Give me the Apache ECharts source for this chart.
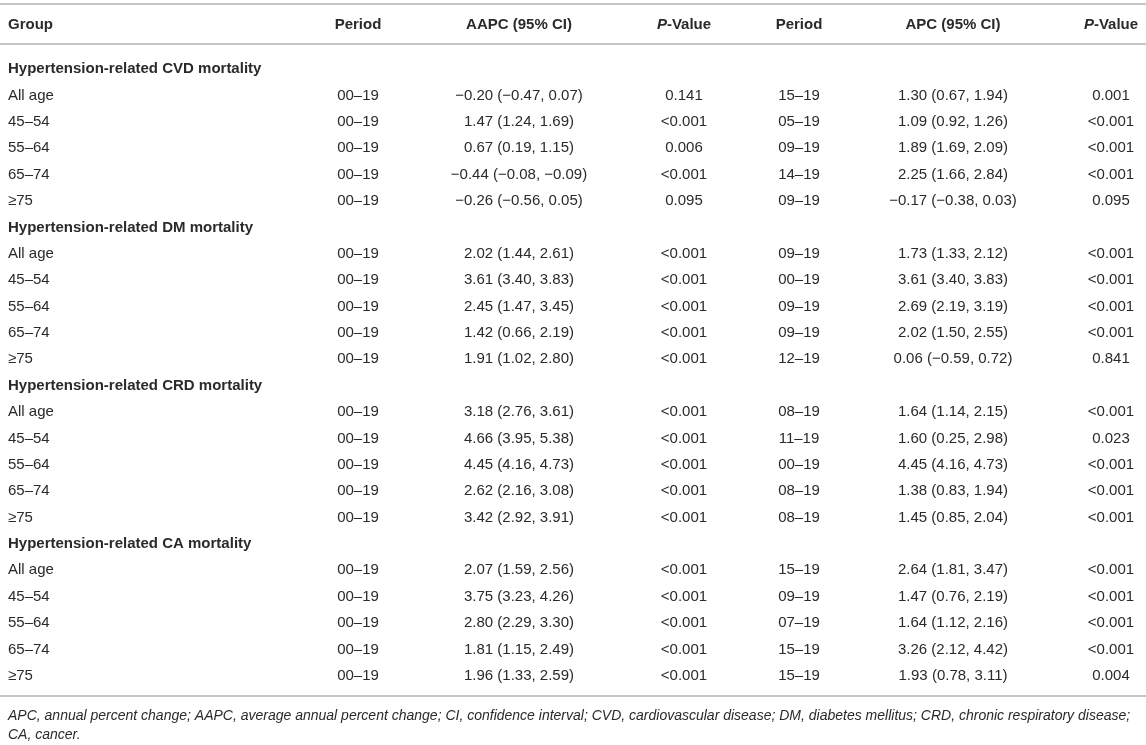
<!DOCTYPE html>
<html>
<head>
<meta charset="utf-8">
<title>Hypertension-related mortality trends</title>
<script src="https://cdn.jsdelivr.net/npm/echarts@6/dist/echarts.min.js"></script>
<style>
  html, body { margin: 0; padding: 0; background: #fff; }
  #table { width: 1146px; height: 745px; }
</style>
</head>
<body>
<div id="table"></div>
<script>
// column headers
const headers = ['Group', 'Period', 'AAPC (95% CI)', '{i|P}-Value', 'Period', 'APC (95% CI)', '{i|P}-Value'];

const sections = [
    'Hypertension-related CVD mortality',
    'Hypertension-related DM mortality',
    'Hypertension-related CRD mortality',
    'Hypertension-related CA mortality'
];
const groups = ['All age', '45–54', '55–64', '65–74', '≥75'];
const aapcPeriod = ['00–19', '00–19', '00–19', '00–19', '00–19'];

// CVD
const cvdAAPC = ['−0.20 (−0.47, 0.07)', '1.47 (1.24, 1.69)', '0.67 (0.19, 1.15)', '−0.44 (−0.08, −0.09)', '−0.26 (−0.56, 0.05)'];
const cvdAAPCp = ['0.141', '<0.001', '0.006', '<0.001', '0.095'];
const cvdPeriod = ['15–19', '05–19', '09–19', '14–19', '09–19'];
const cvdAPC = ['1.30 (0.67, 1.94)', '1.09 (0.92, 1.26)', '1.89 (1.69, 2.09)', '2.25 (1.66, 2.84)', '−0.17 (−0.38, 0.03)'];
const cvdAPCp = ['0.001', '<0.001', '<0.001', '<0.001', '0.095'];

// DM
const dmAAPC = ['2.02 (1.44, 2.61)', '3.61 (3.40, 3.83)', '2.45 (1.47, 3.45)', '1.42 (0.66, 2.19)', '1.91 (1.02, 2.80)'];
const dmAAPCp = ['<0.001', '<0.001', '<0.001', '<0.001', '<0.001'];
const dmPeriod = ['09–19', '00–19', '09–19', '09–19', '12–19'];
const dmAPC = ['1.73 (1.33, 2.12)', '3.61 (3.40, 3.83)', '2.69 (2.19, 3.19)', '2.02 (1.50, 2.55)', '0.06 (−0.59, 0.72)'];
const dmAPCp = ['<0.001', '<0.001', '<0.001', '<0.001', '0.841'];

// CRD
const crdAAPC = ['3.18 (2.76, 3.61)', '4.66 (3.95, 5.38)', '4.45 (4.16, 4.73)', '2.62 (2.16, 3.08)', '3.42 (2.92, 3.91)'];
const crdAAPCp = ['<0.001', '<0.001', '<0.001', '<0.001', '<0.001'];
const crdPeriod = ['08–19', '11–19', '00–19', '08–19', '08–19'];
const crdAPC = ['1.64 (1.14, 2.15)', '1.60 (0.25, 2.98)', '4.45 (4.16, 4.73)', '1.38 (0.83, 1.94)', '1.45 (0.85, 2.04)'];
const crdAPCp = ['<0.001', '0.023', '<0.001', '<0.001', '<0.001'];

// CA
const caAAPC = ['2.07 (1.59, 2.56)', '3.75 (3.23, 4.26)', '2.80 (2.29, 3.30)', '1.81 (1.15, 2.49)', '1.96 (1.33, 2.59)'];
const caAAPCp = ['<0.001', '<0.001', '<0.001', '<0.001', '<0.001'];
const caPeriod = ['15–19', '09–19', '07–19', '15–19', '15–19'];
const caAPC = ['2.64 (1.81, 3.47)', '1.47 (0.76, 2.19)', '1.64 (1.12, 2.16)', '3.26 (2.12, 4.42)', '1.93 (0.78, 3.11)'];
const caAPCp = ['<0.001', '<0.001', '<0.001', '<0.001', '0.004'];

const footnote = 'APC, annual percent change; AAPC, average annual percent change; CI, confidence interval; CVD, cardiovascular disease; DM, diabetes mellitus; CRD, chronic respiratory disease;\nCA, cancer.';

// layout: column anchors (px along the x axis) and alignment
const COL_X = [8, 358, 519, 684, 799, 953, 1111];
const COL_ALIGN = ['left', 'center', 'center', 'center', 'center', 'center', 'center'];
const FONT = '"Liberation Sans", Arial, Helvetica, sans-serif';
const TEXT = '#2a2a2a';
const RULE = '#c6c6c6';

const blocks = [
    [aapcPeriod, cvdAAPC, cvdAAPCp, cvdPeriod, cvdAPC, cvdAPCp],
    [aapcPeriod, dmAAPC, dmAAPCp, dmPeriod, dmAPC, dmAPCp],
    [aapcPeriod, crdAAPC, crdAAPCp, crdPeriod, crdAPC, crdAPCp],
    [aapcPeriod, caAAPC, caAAPCp, caPeriod, caAPC, caAPCp]
];

// body cells: [column, row, text, kind]
const rows = [];
const cells = [];
sections.forEach((title, s) => {
    rows.push('s' + s);
    cells.push([0, rows.length - 1, title, 'section']);
    groups.forEach((g, i) => {
        rows.push('r' + s + '_' + i);
        const r = rows.length - 1;
        cells.push([0, r, g, 'cell']);
        blocks[s].forEach((col, c) => cells.push([c + 1, r, col[i], 'cell']));
    });
});
const headCells = headers.map((h, c) => [c, 0, h, 'head']);

function renderCell(params, api) {
    const c = api.value(0);
    const pt = api.coord([COL_X[c], api.value(1)]);
    const kind = api.value(3);
    const bold = kind !== 'cell';
    return {
        type: 'text',
        x: pt[0],
        y: pt[1],
        style: {
            text: api.value(2),
            fill: TEXT,
            font: (bold ? 'bold ' : '') + '15px ' + FONT,
            align: COL_ALIGN[c],
            verticalAlign: 'middle',
            rich: {
                i: { fontStyle: 'italic', fontWeight: 'bold', fontSize: 15, fontFamily: FONT, fill: TEXT }
            }
        }
    };
}

const chart = echarts.init(document.getElementById('table'), null, { renderer: 'canvas' });

chart.setOption({
    animation: false,
    grid: [
        { left: 0, right: 0, top: 56, bottom: 56 },
        { left: 0, right: 0, top: 12, height: 26 }
    ],
    xAxis: [
        { type: 'value', min: 0, max: 1146, show: false, gridIndex: 0 },
        { type: 'value', min: 0, max: 1146, show: false, gridIndex: 1 }
    ],
    yAxis: [
        { type: 'category', data: rows, inverse: true, show: false, gridIndex: 0 },
        { type: 'category', data: ['head'], show: false, gridIndex: 1 }
    ],
    series: [
        {
            type: 'custom',
            xAxisIndex: 0,
            yAxisIndex: 0,
            data: cells,
            renderItem: renderCell,
            silent: true
        },
        {
            type: 'custom',
            xAxisIndex: 1,
            yAxisIndex: 1,
            data: headCells,
            renderItem: renderCell,
            silent: true
        }
    ],
    graphic: [
        { type: 'rect', shape: { x: 0, y: 3, width: 1146, height: 2 }, style: { fill: RULE }, silent: true },
        { type: 'rect', shape: { x: 0, y: 43, width: 1146, height: 2 }, style: { fill: RULE }, silent: true },
        { type: 'rect', shape: { x: 0, y: 695, width: 1146, height: 2 }, style: { fill: RULE }, silent: true },
        {
            type: 'text',
            left: 8,
            top: 707,
            silent: true,
            style: {
                text: footnote,
                fill: TEXT,
                font: 'italic 14px ' + FONT,
                lineHeight: 19
            }
        }
    ]
});
</script>
</body>
</html>
